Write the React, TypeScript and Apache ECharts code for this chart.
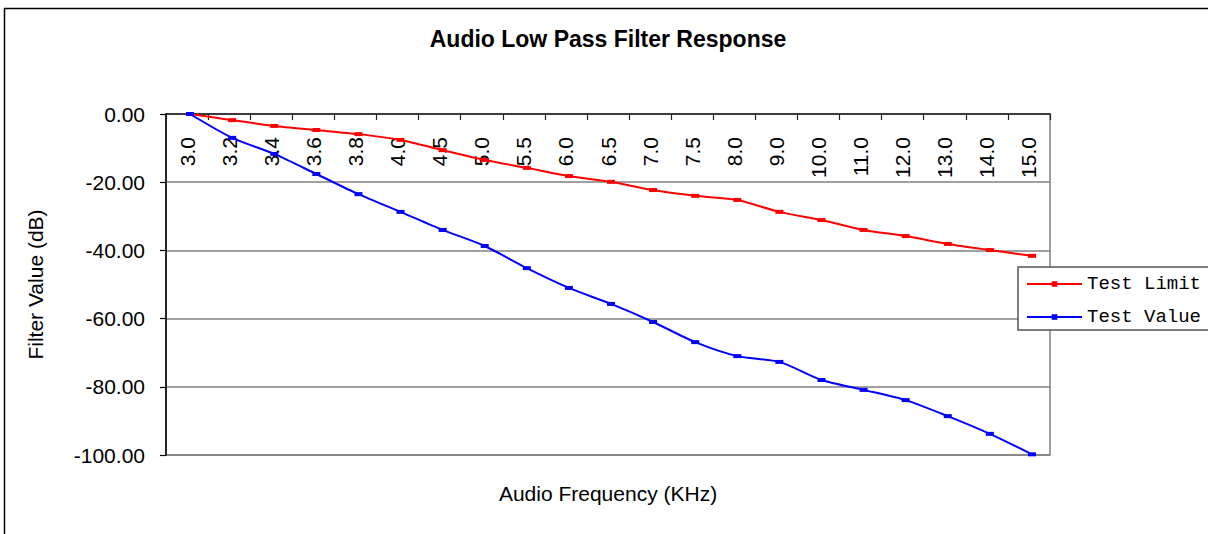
import React, { useEffect, useRef } from "react";
import * as echarts from "echarts";

const categories = ["3.0", "3.2", "3.4", "3.6", "3.8", "4.0", "4.5", "5.0", "5.5", "6.0", "6.5", "7.0", "7.5", "8.0", "9.0", "10.0", "11.0", "12.0", "13.0", "14.0", "15.0"];
const testLimit = [0, -1.8, -3.5, -4.7, -5.9, -7.6, -10.6, -13.5, -15.8, -18.2, -19.9, -22.3, -24.0, -25.2, -28.7, -31.1, -34.0, -35.8, -38.1, -39.9, -41.6];
const testValue = [0, -7.0, -11.7, -17.6, -23.5, -28.7, -34.0, -38.7, -45.2, -51.0, -55.7, -61.0, -66.9, -71.0, -72.7, -78.0, -80.9, -83.9, -88.6, -93.8, -99.8];

const titleText = "Audio Low Pass Filter Response";
const xName = "Audio Frequency (KHz)";
const yName = "Filter Value (dB)";

const FONT = "'Liberation Sans', Arial, sans-serif";

export default function App() {
  const ref = useRef<HTMLDivElement>(null);
  useEffect(() => {
    if (!ref.current) return;
    const chart = echarts.init(ref.current, null, { renderer: "svg" });
    chart.setOption({
      animation: false,
      backgroundColor: "#ffffff",
      title: {
        text: titleText,
        left: 608,
        textAlign: "center",
        top: 27,
        padding: 0,
        textStyle: { fontFamily: FONT, fontSize: 23, fontWeight: "bold", color: "#000" },
      },
      grid: [
        {
          left: 166,
          top: 114,
          right: 158,
          bottom: 79,
          show: true,
          borderColor: "#808080",
          borderWidth: 1.5,
          backgroundColor: "transparent",
        },
        {
          left: 169,
          top: 114,
          right: 155,
          bottom: 79,
          show: false,
        },
      ],
      legend: {
        orient: "vertical",
        left: 1018,
        top: 267,
        padding: [6, 10, 2, 8],
        itemWidth: 55,
        itemHeight: 7,
        itemGap: 11,
        backgroundColor: "#fff",
        borderColor: "#555",
        borderWidth: 1.5,
        borderRadius: 0,
        textStyle: { fontFamily: "'Liberation Mono', monospace", fontSize: 19, lineHeight: 22, color: "#000" },
        data: ["Test Limit", "Test Value"],
      },
      xAxis: [
        {
          type: "category",
          position: "top",
          gridIndex: 0,
          data: categories,
          boundaryGap: true,
          axisLine: { show: true, lineStyle: { color: "#222", width: 1.5 } },
          axisTick: { show: true, inside: true, length: 6, lineStyle: { color: "#222", width: 1.2 } },
          axisLabel: {
            inside: true,
            rotate: 90,
            margin: 23,
            interval: 0,
            fontFamily: FONT,
            fontSize: 21,
            color: "#000",
          },
          splitLine: { show: false },
        },
        {
          type: "category",
          gridIndex: 1,
          data: categories,
          boundaryGap: true,
          show: false,
        },
      ],
      yAxis: [
        {
          type: "value",
          gridIndex: 0,
          min: -100,
          max: 0,
          interval: 20,
          name: yName,
          nameLocation: "middle",
          nameRotate: 90,
          nameGap: 120,
          nameTextStyle: { fontFamily: FONT, fontSize: 21, color: "#000" },
          axisLine: { show: true, lineStyle: { color: "#000", width: 1.5 } },
          axisTick: { show: true, inside: false, length: 6, lineStyle: { color: "#000", width: 1.2 } },
          axisLabel: {
            margin: 21,
            fontFamily: FONT,
            fontSize: 21,
            color: "#000",
            formatter: (v: number) => v.toFixed(2),
          },
          splitLine: { show: true, lineStyle: { color: "#808080", width: 1.5 } },
        },
        {
          type: "value",
          gridIndex: 1,
          min: -100,
          max: 0,
          interval: 20,
          show: false,
        },
      ],
      graphic: [
        {
          type: "rect",
          shape: { x: 4.5, y: 8.5, width: 1300, height: 600 },
          style: { fill: "none", stroke: "#000", lineWidth: 1.5 },
          z: 100,
          silent: true,
        },
        {
          type: "text",
          x: 608,
          y: 493,
          style: {
            text: xName,
            fontFamily: FONT,
            fontSize: 21,
            fill: "#000",
            textAlign: "center",
            textVerticalAlign: "middle",
          },
        },
      ],
      series: [
        {
          name: "Test Limit",
          type: "line",
          xAxisIndex: 1,
          yAxisIndex: 1,
          data: testLimit,
          smooth: 0.25,
          symbol: "rect",
          symbolSize: [8, 4],
          lineStyle: { color: "#ff0000", width: 2 },
          itemStyle: { color: "#ff0000" },
          z: 3,
        },
        {
          name: "Test Value",
          type: "line",
          xAxisIndex: 1,
          yAxisIndex: 1,
          data: testValue,
          smooth: 0.25,
          symbol: "rect",
          symbolSize: [8, 4],
          lineStyle: { color: "#0000ff", width: 2 },
          itemStyle: { color: "#0000ff" },
          z: 4,
        },
      ],
    });
    return () => chart.dispose();
  }, []);
  return (
    <div
      ref={ref}
      style={{ position: "absolute", left: 0, top: 0, width: 1208, height: 534 }}
    />
  );
}
